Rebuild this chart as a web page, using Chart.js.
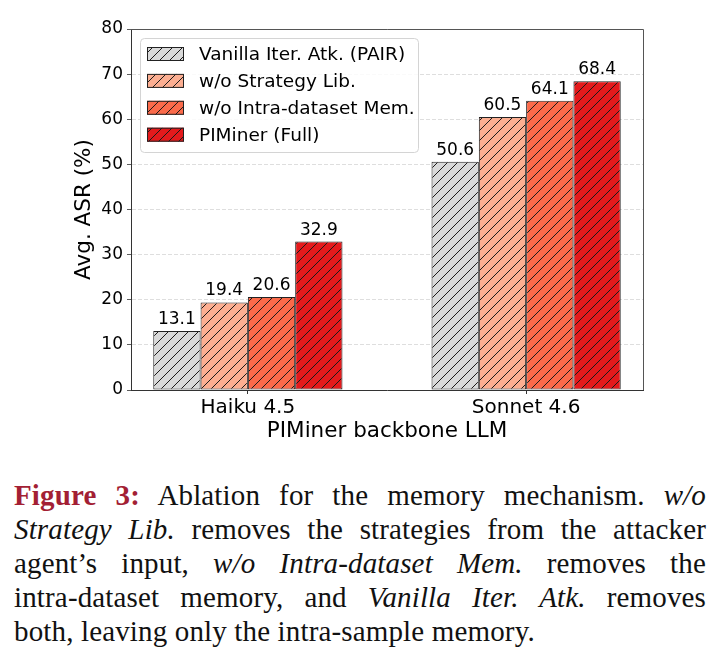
<!DOCTYPE html>
<html>
<head>
<meta charset="utf-8">
<script src="https://cdn.jsdelivr.net/npm/chart.js@4.4.1/dist/chart.umd.min.js"></script>
<style>
  body { margin: 0; background: #fff; width: 719px; height: 665px; overflow: hidden; }
  #wrap { position: absolute; left: 0; top: 0; width: 719px; height: 450px; }
  .caption { position: absolute; left: 14px; top: 478px; width: 692px;
    font-family: "Liberation Serif", serif; font-size: 29px; line-height: 34px;
    letter-spacing: 0.15px; color: #111; }
  .caption div { text-align: justify; text-align-last: justify; white-space: nowrap; }
  .caption div.last { text-align-last: left; }
  .caption b { color: #a31f34; }
</style>
</head>
<body>
<div id="wrap"><canvas id="chart" width="719" height="450"></canvas></div>
<div class="caption">
  <div><b>Figure 3:</b> Ablation for the memory mechanism. <i>w/o</i></div>
  <div><i>Strategy Lib.</i> removes the strategies from the attacker</div>
  <div>agent’s input, <i>w/o Intra-dataset Mem.</i> removes the</div>
  <div>intra-dataset memory, and <i>Vanilla Iter. Atk.</i> removes</div>
  <div class="last">both, leaving only the intra-sample memory.</div>
</div>
<script>
// data
const categories = ["Haiku 4.5", "Sonnet 4.6"];
const seriesNames = ["Vanilla Iter. Atk. (PAIR)", "w/o Strategy Lib.", "w/o Intra-dataset Mem.", "PIMiner (Full)"];
const vanilla = [13.1, 50.6];
const noStrategy = [19.4, 60.5];
const noIntraMem = [20.6, 64.1];
const full = [32.9, 68.4];
const series = [vanilla, noStrategy, noIntraMem, full];

const barColors = ["#d9d9d9", "#fcae91", "#fb6a4a", "#e41a1c"];
const FONT = "DejaVu Sans";

// diagonal "//" hatch on top of a fill colour
function hatch(color) {
  const c = document.createElement("canvas");
  c.width = 10; c.height = 10;
  const g = c.getContext("2d");
  g.fillStyle = color;
  g.fillRect(0, 0, 10, 10);
  g.strokeStyle = "#1a1a1a";
  g.lineWidth = 1;
  g.beginPath();
  g.moveTo(0, 10); g.lineTo(10, 0);
  g.moveTo(-2, 2); g.lineTo(2, -2);
  g.moveTo(8, 12); g.lineTo(12, 8);
  g.stroke();
  return g.createPattern(c, "repeat");
}

const patterns = barColors.map(hatch);

const datasets = series.map((vals, i) => ({
  label: seriesNames[i],
  data: categories.map((c, j) => ({ x: j, y: vals[j] })),
  backgroundColor: patterns[i],
  borderColor: "#222",
  borderWidth: 1,
  borderSkipped: false,
}));

const frameAndLabels = {
  id: "frameAndLabels",
  afterDraw(chart) {
    const ctx = chart.ctx;
    const a = chart.chartArea;
    ctx.save();
    // top + right spines
    ctx.strokeStyle = "#555";
    ctx.lineWidth = 1;
    ctx.beginPath();
    ctx.moveTo(a.left, a.top + 0.5);
    ctx.lineTo(a.right + 0.5, a.top + 0.5);
    ctx.lineTo(a.right + 0.5, a.bottom);
    ctx.stroke();

    // value labels
    ctx.font = "17px '" + FONT + "'";
    ctx.fillStyle = "#000";
    ctx.textAlign = "center";
    ctx.textBaseline = "alphabetic";
    chart.data.datasets.forEach((ds, i) => {
      chart.getDatasetMeta(i).data.forEach((bar, j) => {
        ctx.fillText(ds.data[j].y.toFixed(1), bar.x, bar.y - 7);
      });
    });

    // legend box
    const lx = 140, ly = 38, lw = 278, lh = 114;
    ctx.beginPath();
    ctx.roundRect(lx + 0.5, ly + 0.5, lw, lh, 4);
    ctx.fillStyle = "rgba(255,255,255,0.85)";
    ctx.fill();
    ctx.strokeStyle = "#d4d4d4";
    ctx.stroke();
    ctx.font = "18.5px '" + FONT + "'";
    ctx.textAlign = "left";
    ctx.textBaseline = "middle";
    chart.data.datasets.forEach((ds, i) => {
      const cy = 54 + i * 26.9;
      ctx.fillStyle = ds.backgroundColor;
      ctx.fillRect(147, cy - 7, 37, 14);
      ctx.strokeStyle = "#222";
      ctx.strokeRect(147.5, cy - 6.5, 36, 13);
      ctx.fillStyle = "#000";
      ctx.fillText(ds.label, 199, cy + 1);
    });
    ctx.restore();
  },
};

new Chart(document.getElementById("chart"), {
  type: "bar",
  data: { datasets },
  options: {
    responsive: false,
    animation: false,
    layout: { padding: { left: 72, top: 29, right: 76, bottom: 6 } },
    datasets: { bar: { categoryPercentage: 0.68, barPercentage: 1 } },
    plugins: { legend: { display: false }, tooltip: { enabled: false } },
    scales: {
      x: {
        type: "linear",
        min: -0.42,
        max: 1.42,
        offset: false,
        z: 1,
        afterBuildTicks: (s) => { s.ticks = categories.map((c, i) => ({ value: i })); },
        afterFit: (s) => { s.height = 54; },
        ticks: {
          callback: (v) => categories[v],
          color: "#000",
          font: { family: FONT, size: 20 },
          padding: 2,
          maxRotation: 0,
        },
        grid: { drawOnChartArea: false, drawTicks: true, tickLength: 4, tickColor: "#333", offset: false },
        border: { color: "#333", width: 1 },
        title: {
          display: true,
          text: "PIMiner backbone LLM",
          color: "#000",
          font: { family: FONT, size: 21.5 },
          padding: 0,
        },
      },
      y: {
        min: 0,
        max: 80,
        z: 1,
        afterFit: (s) => { s.width = 59; },
        ticks: {
          stepSize: 10,
          color: "#000",
          font: { family: FONT, size: 17 },
          padding: 4,
        },
        grid: { color: "rgba(185,185,185,0.6)", lineWidth: 0.8, tickLength: 4, tickColor: "#333" },
        border: { color: "#333", width: 1, dash: [4, 2] },
        title: {
          display: true,
          text: "Avg. ASR (%)",
          color: "#000",
          font: { family: FONT, size: 21.5 },
          padding: 0,
        },
      },
    },
  },
  plugins: [frameAndLabels],
});
</script>
</body>
</html>
